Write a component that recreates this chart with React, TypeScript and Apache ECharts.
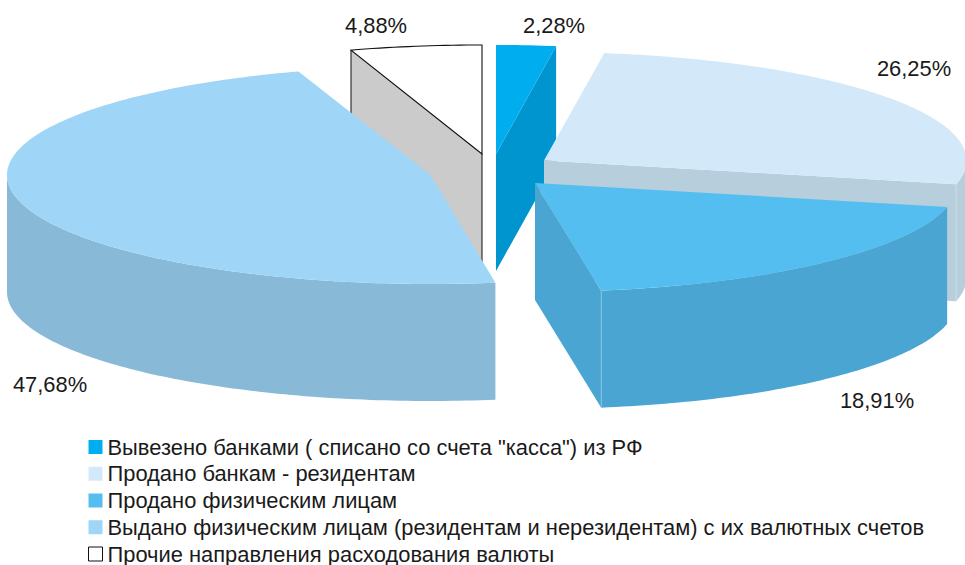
import React, { useEffect, useRef } from "react";
import * as echarts from "echarts";

const categories = [
  "Вывезено банками ( списано со счета \"касса\") из РФ",
  "Продано банкам - резидентам",
  "Продано физическим лицам",
  "Выдано физическим лицам (резидентам и нерезидентам) с их валютных счетов",
  "Прочие направления расходования валюты",
];
const shares = [2.28, 26.25, 18.91, 47.68, 4.88];
const shareLabels = ["2,28%", "26,25%", "18,91%", "47,68%", "4,88%"];

// Styling and layout of the exploded 3D pie
const topColors = ["#00AEEF", "#D3E9FA", "#54BEF0", "#9FD5F6", "#FFFFFF"];
const wallColors = ["#0095CF", "#B7CEDC", "#4AA5D2", "#88B9D7", "#CBCBCB"];
const seamColors = ["#4FB8E4", "#CBDDE8", "#8CC8E6", "#B0D4EA", "#222222"];
const sliceCenters = [[496, 154], [544, 160.5], [535, 183], [430.5, 175], [482, 154]];
const radiiX = [421, 422.5, 422.5, 423.5, 434];
const radiiY = [109, 108.5, 109, 109, 109];
const trims = [[0, 0], [0, 0], [0, 0.2], [0.4, -0.6], [0, 0]];
const labelAnchors = [[554, 25], [914, 68], [877, 400], [50, 384], [376, 25]];
const drawOrder = [2, 3, 4, 5, 1];
const DEPTH = 117;
const total = shares.reduce((a, b) => a + b, 0);
const FONT = '21.9px "Liberation Sans", Arial, sans-serif';

function arcPoints(cx: number, cy: number, rx: number, ry: number, from: number, to: number) {
  const pts: number[][] = [];
  const steps = Math.max(2, Math.ceil(Math.abs(to - from) / 1));
  for (let i = 0; i <= steps; i++) {
    const t = ((from + ((to - from) * i) / steps) * Math.PI) / 180;
    pts.push([cx + rx * Math.sin(t), cy - ry * Math.cos(t)]);
  }
  return pts;
}

function makeRenderItem(index: number) {
  return (_params: any, api: any) => {
    const value = api.value(0) as number;
    const before = shares.slice(0, index).reduce((a, b) => a + b, 0);
    const a0 = (before / total) * 360 + trims[index][0];
    const a1 = ((before + value) / total) * 360 + trims[index][1];
    const [cx, cy] = sliceCenters[index];
    const rx = radiiX[index];
    const ry = radiiY[index];
    const top = topColors[index];
    const wall = wallColors[index];
    const seam = seamColors[index];
    const outlined = index === 4;
    const children: any[] = [];
    const rimAt = (a: number) => arcPoints(cx, cy, rx, ry, a, a)[0];
    const addFace = (a: number) => {
      const p = rimAt(a);
      children.push({
        type: "polygon",
        shape: { points: [[cx, cy], p, [p[0], p[1] + DEPTH], [cx, cy + DEPTH]] },
        style: { fill: wall, stroke: "none" },
      });
    };
    // Cut faces turned to the viewer
    if (Math.sin((a0 * Math.PI) / 180) < -1e-6) addFace(a0);
    if (Math.sin((a1 * Math.PI) / 180) > 1e-6) addFace(a1);
    // Outer wall: the part of the rim that faces the viewer
    const w0 = Math.max(a0, 90);
    const w1 = Math.min(a1, 270);
    if (w1 > w0) {
      const upper = arcPoints(cx, cy, rx, ry, w0, w1);
      const lower = upper.map((p) => [p[0], p[1] + DEPTH]).reverse();
      children.push({
        type: "polygon",
        shape: { points: upper.concat(lower) },
        style: { fill: wall, stroke: "none" },
      });
      // Seam between the outer wall and the cut face
      const seamAngle = Math.sin((a1 * Math.PI) / 180) > 1e-6 ? a1 : null;
      if (seamAngle !== null) {
        const p = rimAt(seamAngle);
        children.push({
          type: "line",
          shape: { x1: p[0], y1: p[1], x2: p[0], y2: p[1] + DEPTH },
          style: { stroke: seam, lineWidth: 0.8 },
        });
      }
    }
    // Vertical edges of the outlined slice
    if (outlined) {
      const p = rimAt(a0);
      children.push({
        type: "line",
        shape: { x1: p[0], y1: p[1], x2: p[0], y2: p[1] + DEPTH },
        style: { stroke: "#333333", lineWidth: 1.2 },
      });
      children.push({
        type: "line",
        shape: { x1: cx, y1: cy, x2: cx, y2: cy + DEPTH },
        style: { stroke: "#222222", lineWidth: 1.1 },
      });
    }
    // Top surface
    children.push({
      type: "polygon",
      shape: { points: [[cx, cy] as number[]].concat(arcPoints(cx, cy, rx, ry, a0, a1)) },
      style: { fill: top, stroke: outlined ? "#111111" : "none", lineWidth: outlined ? 1.1 : 0 },
    });
    // Value label
    const [lx, ly] = labelAnchors[index];
    children.push({
      type: "text",
      style: {
        x: lx,
        y: ly,
        text: shareLabels[index],
        font: FONT,
        fill: "#1a1a1a",
        align: "center",
        verticalAlign: "middle",
      },
    });
    return { type: "group", children };
  };
}

export default function App() {
  const ref = useRef<HTMLDivElement>(null);
  useEffect(() => {
    document.body.style.margin = "0";
    const chart = echarts.init(ref.current!, null, { renderer: "svg" });
    chart.setOption({
      animation: false,
      backgroundColor: "#ffffff",
      legend: {
        orient: "vertical",
        left: 88,
        top: 436,
        height: 200,
        padding: 0,
        itemWidth: 14,
        itemHeight: 14,
        itemGap: 4.75,
        selectedMode: false,
        textStyle: {
          fontFamily: '"Liberation Sans", Arial, sans-serif',
          fontSize: 21.9,
          color: "#1a1a1a",
          lineHeight: 18,
          padding: 0,
        },
        data: categories.map((name, i) => ({
          name,
          icon: "rect",
          itemStyle:
            i === 4
              ? { color: "#ffffff", borderColor: "#111111", borderWidth: 1 }
              : { color: topColors[i], borderWidth: 0 },
        })),
      },
      series: categories.map((name, i) => ({
        type: "custom",
        name,
        coordinateSystem: "none",
        silent: true,
        z: drawOrder[i],
        itemStyle: { color: topColors[i] },
        renderItem: makeRenderItem(i),
        data: [[shares[i]]],
      })),
    });
    return () => chart.dispose();
  }, []);
  return <div ref={ref} style={{ width: 965, height: 565 }} />;
}
